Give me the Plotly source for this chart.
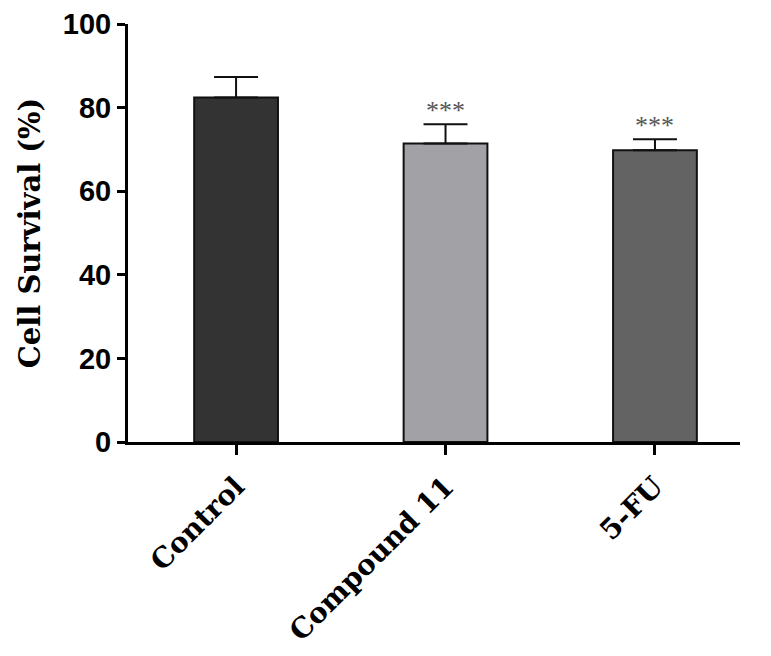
import plotly.graph_objects as go

categories = ["Control", "Compound 11", "5-FU"]
survival = [82.4, 71.4, 69.8]
sem = [4.9, 4.6, 2.6]
significance = ["", "***", "***"]
bar_colors = ["#333333", "#a2a2a6", "#636363"]
y_ticks = [0, 20, 40, 60, 80, 100]

fig = go.Figure()
fig.add_trace(go.Bar(
    x=categories, y=survival, width=0.4,
    marker=dict(color=bar_colors, line=dict(color="#111111", width=2)),
    error_y=dict(type="data", array=sem, arrayminus=[0]*len(sem), symmetric=False,
                 color="#111111", thickness=2, width=22),
))

for c, v, e, s in zip(categories, survival, sem, significance):
    if s:
        fig.add_annotation(x=c, y=v + e, text=s, showarrow=False, yanchor="bottom",
                           yshift=-3, font=dict(family="Liberation Serif", size=26, color="#555555"))

fig.update_layout(
    width=763, height=648, plot_bgcolor="white", paper_bgcolor="white",
    margin=dict(l=120, r=31, t=16, b=214), showlegend=False,
    xaxis=dict(range=[-0.516, 2.406], showline=True, linecolor="black", linewidth=3,
               ticks="outside", ticklen=10, tickwidth=3, tickcolor="black", automargin=False,
               ticklabelstandoff=4,
               tickangle=-45, tickfont=dict(family="DejaVu Serif", size=28, color="black", weight="bold")),
    yaxis=dict(range=[0, 100], tickvals=y_ticks, showline=True, linecolor="black", linewidth=3,
               ticks="outside", ticklen=8, tickwidth=3, tickcolor="black", showgrid=False, zeroline=False,
               automargin=False,
               tickfont=dict(family="Liberation Sans", size=29, color="black", weight="bold"),
               title=dict(text="Cell Survival (%)", standoff=14,
                          font=dict(family="DejaVu Serif", size=29, color="black", weight="bold"))),
)

fig.write_html("out.html")
